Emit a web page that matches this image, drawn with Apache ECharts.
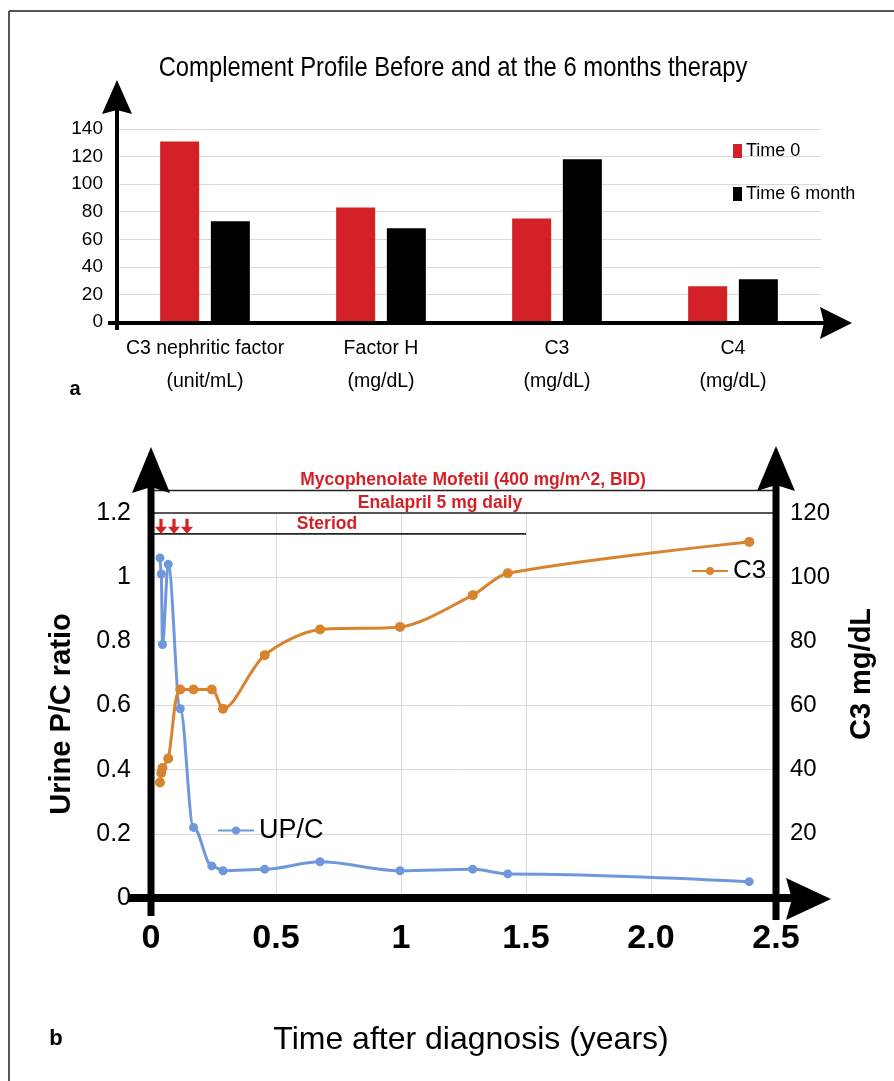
<!DOCTYPE html>
<html><head><meta charset="utf-8">
<script src="https://cdn.jsdelivr.net/npm/echarts@6/dist/echarts.min.js"></script>
<style>html,body{margin:0;padding:0;background:#fff;}#c{width:894px;height:1081px;}</style>
</head><body><div id="c"></div>
<script>
// ---- Panel a data ----
const barCategories = ['C3 nephritic factor\n(unit/mL)', 'Factor H\n(mg/dL)', 'C3\n(mg/dL)', 'C4\n(mg/dL)'];
const time0Values = [131, 83, 75, 26];
const time6Values = [73, 68, 118, 31];
const barSeriesNames = ['Time 0', 'Time 6 month'];

// ---- Panel b data ----
const yearsAfterDiagnosis = [0.036, 0.041, 0.046, 0.069, 0.117, 0.170, 0.243, 0.288, 0.455, 0.676, 0.996, 1.287, 1.427, 2.393];
const upcValues = [1.06, 1.01, 0.79, 1.04, 0.59, 0.22, 0.10, 0.085, 0.09, 0.113, 0.085, 0.09, 0.075, 0.051];
const c3Values = [36, 39, 40.5, 43.5, 65, 65, 65, 59, 75.7, 83.7, 84.5, 94.4, 101.2, 111];
const xTickLabels = ['0', '0.5', '1', '1.5', '2.0', '2.5'];
const therapyLabels = ['Mycophenolate Mofetil (400 mg/m^2, BID)', 'Enalapril 5 mg daily', 'Steriod'];

const SANS = "'Liberation Sans',Arial,sans-serif";
const RED = '#d42027';
const BLUE = '#6f98dc';
const ORANGE = '#d8832e';

const chart = echarts.init(document.getElementById('c'), null, {renderer: 'canvas'});

const G0 = {left: 117, top: 129, width: 704, height: 193};
const G1 = {left: 151, top: 513, width: 625, height: 385};

const option = {
  animation: false,
  backgroundColor: '#fff',
  textStyle: {fontFamily: SANS},
  grid: [
    {left: G0.left, top: G0.top, width: G0.width, height: G0.height, containLabel: false},
    {left: G1.left, top: G1.top, width: G1.width, height: G1.height, containLabel: false}
  ],
  xAxis: [
    {type: 'category', gridIndex: 0, data: barCategories,
     axisLine: {show: false}, axisTick: {show: false},
     axisLabel: {interval: 0, color: '#000', fontFamily: SANS, fontSize: 19.5, lineHeight: 33, margin: 10}},
    {type: 'value', gridIndex: 1, min: 0, max: 2.5, interval: 0.5,
     axisLine: {show: false}, axisTick: {show: false},
     splitLine: {show: true, lineStyle: {color: '#d9d9d9', width: 1}},
     axisLabel: {color: '#000', fontFamily: SANS, fontWeight: 'bold', fontSize: 34, margin: 24,
       formatter: v => xTickLabels[Math.round(v / 0.5)]}}
  ],
  yAxis: [
    {type: 'value', gridIndex: 0, min: 0, max: 140, interval: 20,
     axisLine: {show: false}, axisTick: {show: false},
     splitLine: {lineStyle: {color: '#d9d9d9', width: 1}},
     axisLabel: {color: '#000', fontFamily: SANS, fontSize: 19, margin: 14}},
    {type: 'value', gridIndex: 1, min: 0, max: 1.2, interval: 0.2, position: 'left',
     axisLine: {show: false}, axisTick: {show: false},
     splitLine: {lineStyle: {color: '#d9d9d9', width: 1}},
     axisLabel: {color: '#000', fontFamily: SANS, fontSize: 25, margin: 20,
       formatter: v => String(Math.round(v * 10) / 10)}},
    {type: 'value', gridIndex: 1, min: 0, max: 120, interval: 20, position: 'right',
     axisLine: {show: false}, axisTick: {show: false}, splitLine: {show: false},
     axisLabel: {color: '#000', fontFamily: SANS, fontSize: 24, margin: 14}}
  ],
  legend: [
    {data: barSeriesNames, orient: 'vertical', left: 728, top: 137, icon: 'rect',
     itemWidth: 9, itemHeight: 14, itemGap: 25,
     textStyle: {color: '#000', fontFamily: SANS, fontSize: 18, padding: [0, 0, 0, -1]}},
    {data: ['UP/C'], left: 212, top: 812, itemWidth: 36, itemHeight: 10,
     textStyle: {color: '#000', fontFamily: SANS, fontSize: 27}},
    {data: ['C3'], left: 686, top: 553, itemWidth: 36, itemHeight: 10,
     textStyle: {color: '#000', fontFamily: SANS, fontSize: 26}}
  ],
  series: [
    {name: barSeriesNames[0], type: 'bar', xAxisIndex: 0, yAxisIndex: 0, data: time0Values,
     barWidth: 39, barGap: '30%', itemStyle: {color: RED}},
    {name: barSeriesNames[1], type: 'bar', xAxisIndex: 0, yAxisIndex: 0, data: time6Values,
     barWidth: 39, barGap: '30%', itemStyle: {color: '#000'}},
    {name: 'UP/C', type: 'line', xAxisIndex: 1, yAxisIndex: 1,
     data: yearsAfterDiagnosis.map((t, i) => [t, upcValues[i]]),
     smooth: 0.35, smoothMonotone: 'x', symbol: 'circle', symbolSize: 9,
     lineStyle: {color: BLUE, width: 3}, itemStyle: {color: BLUE}, z: 3},
    {name: 'C3', type: 'line', xAxisIndex: 1, yAxisIndex: 2,
     data: yearsAfterDiagnosis.map((t, i) => [t, c3Values[i]]),
     smooth: 0.3, symbol: 'circle', symbolSize: 10,
     lineStyle: {color: ORANGE, width: 3}, itemStyle: {color: ORANGE}, z: 4}
  ]
};
chart.setOption(option);

// ---- decorations (axis arrows, annotations, texts) ----
function arrowUp(x, tipY, baseY, hw, notch) {
  return {type: 'polygon', z: 60, shape: {points: [[x, tipY], [x + hw, baseY], [x, baseY - notch], [x - hw, baseY]]}, style: {fill: '#000'}};
}
function arrowRight(tipX, y, baseX, hh, notch) {
  return {type: 'polygon', z: 60, shape: {points: [[tipX, y], [baseX, y + hh], [baseX + notch, y], [baseX, y - hh]]}, style: {fill: '#000'}};
}
function line(x1, y1, x2, y2, w, c, z) {
  return {type: 'line', z: z || 55, shape: {x1, y1, x2, y2}, style: {stroke: c || '#000', lineWidth: w}};
}
function text(str, x, y, font, opts, extra) {
  return Object.assign({type: 'text', z: 70, x, y, style: Object.assign({text: str, font, fill: '#000', align: 'center', verticalAlign: 'middle'}, opts || {})}, extra || {});
}
function downArrow(cx, tipY, c) {
  const hw = 6, hh = 7, sw = 1.6, top = tipY - 15;
  return {type: 'polygon', z: 65, shape: {points: [[cx - sw, top], [cx + sw, top], [cx + sw, tipY - hh], [cx + hw, tipY - hh], [cx, tipY], [cx - hw, tipY - hh], [cx - sw, tipY - hh]]}, style: {fill: c}};
}

const P = (t, v) => chart.convertToPixel({xAxisIndex: 1, yAxisIndex: 1}, [t, v]);
const a0 = chart.convertToPixel({xAxisIndex: 0, yAxisIndex: 0}, [0, 0]);
const topY0 = a0[1];
const axX0 = G0.left;
const o1 = P(0, 0), e1 = P(2.5, 0);
const mycoL = P(0, 1.27), mycoR = P(2.5, 1.27);
const enaL = P(0, 1.2), enaR = P(2.5, 1.2);
const steL = P(0, 1.135), steR = P(1.5, 1.135);

const g = [];
// page frame
g.push(line(9, 11, 894, 11, 2, '#555', 1));
g.push(line(9, 11, 9, 1081, 2, '#555', 1));

// panel a axes
g.push(line(axX0, topY0 + 8, axX0, 100, 4));
g.push(arrowUp(axX0, 80, 114, 15, 4));
g.push(line(108, topY0 + 1, 825, topY0 + 1, 4));
g.push(arrowRight(852, topY0 + 1, 820, 16, 4));

// panel b axes
g.push(line(o1[0], o1[1] + 18, o1[0], 480, 7));
g.push(arrowUp(o1[0], 447, 493, 19, 6));
g.push(line(e1[0], o1[1] + 22, e1[0], 480, 7));
g.push(arrowUp(e1[0], 446, 491, 19, 6));
g.push(line(128, o1[1], 795, o1[1], 8));
g.push(arrowRight(831, o1[1] + 1, 786, 21, 6));

// therapy lines
g.push(line(mycoL[0], mycoL[1], mycoR[0], mycoR[1], 1.6, '#222', 50));
g.push(line(enaL[0], enaL[1], enaR[0], enaR[1], 1.6, '#222', 50));
g.push(line(steL[0], steL[1], steR[0], steR[1], 1.6, '#222', 50));
const TF = "bold 17.5px " + SANS;
const pm = P(1.288, 1.27), pe = P(1.156, 1.2), ps = P(0.704, 1.135);
g.push(text(therapyLabels[0], pm[0], pm[1] - 1, TF, {fill: RED, verticalAlign: 'bottom'}));
g.push(text(therapyLabels[1], pe[0], pe[1] - 1, TF, {fill: RED, verticalAlign: 'bottom'}));
g.push(text(therapyLabels[2], ps[0], ps[1] - 1, TF, {fill: RED, verticalAlign: 'bottom'}));
const pa = P(0.04, 1.135), pb = P(0.092, 1.135), pc = P(0.144, 1.135);
g.push(downArrow(pa[0], pa[1], RED));
g.push(downArrow(pb[0], pb[1], RED));
g.push(downArrow(pc[0], pc[1], RED));

// titles
g.push(text('Complement Profile Before and at the 6 months therapy', 453, 68, "28px " + SANS, null, {scaleX: 0.85}));
g.push(text('a', 75, 389, "bold 20px " + SANS));
g.push(text('b', 56, 1039, "bold 22px " + SANS));
g.push(text('Urine P/C ratio', 62, 714, "bold 29px " + SANS, null, {rotation: Math.PI / 2}));
g.push(text('C3 mg/dL', 862, 674, "bold 29px " + SANS, null, {rotation: Math.PI / 2}));
g.push(text('Time after diagnosis (years)', 471, 1040, "32px " + SANS));

chart.setOption({graphic: {elements: g}});
</script>
</body></html>
